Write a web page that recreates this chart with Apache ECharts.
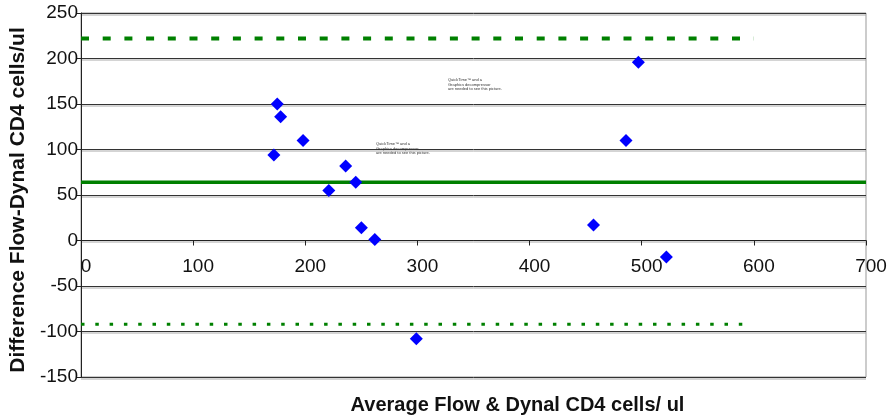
<!DOCTYPE html>
<html>
<head>
<meta charset="utf-8">
<script src="https://cdn.jsdelivr.net/npm/echarts@6/dist/echarts.min.js"></script>
<style>html,body{margin:0;padding:0;background:#fff}#c{width:890px;height:418px}</style>
</head>
<body>
<div id="c"></div>
<script>
// Data
const avgValues = [175, 178, 172, 198, 221, 236, 245, 250, 262, 299, 457, 486, 497, 522];
const diffValues = [150, 136, 94, 110, 55, 82, 64, 14, 1, -108, 17, 110, 196, -18];
const meanDiff = 64;
const upperLimit = 222;
const lowerLimit = -92;
const upperRange = [0, 600];
const lowerRange = [0, 595];
const meanRange = [0, 700];
const xTicks = [0, 100, 200, 300, 400, 500, 600, 700];
const yTicks = [-150, -100, -50, 0, 50, 100, 150, 200, 250];
const xTitle = 'Average Flow & Dynal CD4 cells/ ul';
const yTitle = 'Difference Flow-Dynal CD4 cells/ul';
const qtNote = ['QuickTime\u2122 and a', 'Graphics decompressor', 'are needed to see this picture.'];

const points = avgValues.map((x, i) => [x, diffValues[i]]);
const green = '#008000';
const font = '"Liberation Sans", Arial, sans-serif';

const gridTop = 13, gridBottom = 41, H = 418;
const plotH = H - gridTop - gridBottom;
const yMin = yTicks[0], yMax = yTicks[yTicks.length - 1];
// pixel distance from the bottom of the grid up to the zero line
const zeroShift = plotH * (0 - yMin) / (yMax - yMin);

const chart = echarts.init(document.getElementById('c'), null, {renderer: 'canvas'});
chart.setOption({
  animation: false,
  backgroundColor: '#fff',
  grid: {left: 81, right: 24, top: gridTop, bottom: gridBottom, show: true, borderColor: '#999', borderWidth: 1,
    containLabel: false, outerBoundsMode: 'none'},
  xAxis: {
    type: 'value', min: xTicks[0], max: xTicks[xTicks.length - 1], interval: 100,
    position: 'bottom', offset: -zeroShift,
    axisLine: {onZero: false, lineStyle: {color: '#222', width: 1}},
    axisTick: {show: true, inside: false, length: 5, lineStyle: {color: '#222'}},
    axisLabel: {color: '#111', fontSize: 19, fontFamily: font, margin: 17, padding: [0, 0, 0, 10]},
    splitLine: {show: false},
    name: xTitle, nameLocation: 'middle', nameGap: 155,
    nameTextStyle: {fontWeight: 'bold', fontSize: 20, fontFamily: font, color: '#111', padding: [0, 0, 0, 88]}
  },
  yAxis: {
    type: 'value', min: yMin, max: yMax, interval: 50,
    axisLine: {show: true, onZero: false, lineStyle: {color: '#222', width: 1}},
    axisTick: {show: true, length: 5, lineStyle: {color: '#222'}},
    axisLabel: {color: '#111', fontSize: 19, fontFamily: font, margin: 3},
    splitLine: {show: true, lineStyle: {color: '#333', width: 1, shadowColor: '#aaa', shadowOffsetY: 1.5, shadowBlur: 0}},
    name: yTitle, nameLocation: 'middle', nameGap: 48, nameRotate: 90,
    nameTextStyle: {fontWeight: 'bold', fontSize: 21, fontFamily: font, color: '#111', padding: [0, 10, 0, 0]}
  },
  graphic: [
    {type: 'text', left: 448, top: 78, style: {text: qtNote.join('\n'), fontSize: 4, lineHeight: 4.3, fill: '#333', align: 'center', fontFamily: font}},
    {type: 'text', left: 376, top: 142, style: {text: qtNote.join('\n'), fontSize: 4, lineHeight: 4.3, fill: '#333', align: 'center', fontFamily: font}}
  ],
  series: [
    {type: 'line', data: [[upperRange[0], upperLimit], [upperRange[1], upperLimit]], showSymbol: false, silent: true,
      lineStyle: {color: green, width: 4, type: [8, 13.7]}, z: 3},
    {type: 'line', data: [[lowerRange[0], lowerLimit], [lowerRange[1], lowerLimit]], showSymbol: false, silent: true,
      lineStyle: {color: green, width: 3, type: [3.5, 10.8]}, z: 3},
    {type: 'line', data: [[meanRange[0], meanDiff], [meanRange[1], meanDiff]], showSymbol: false, silent: true,
      lineStyle: {color: green, width: 3.5}, z: 3},
    {type: 'scatter', data: points, symbol: 'diamond', symbolSize: 13,
      itemStyle: {color: '#0000ff', opacity: 1}, z: 5}
  ]
});
</script>
</body>
</html>
